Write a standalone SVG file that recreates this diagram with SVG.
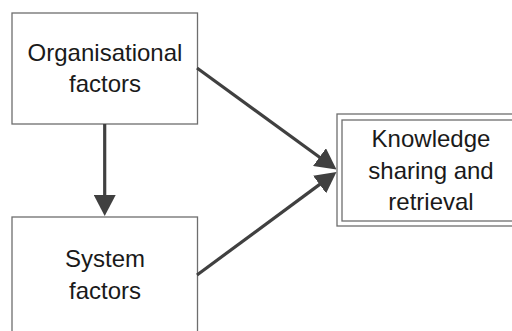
<svg xmlns="http://www.w3.org/2000/svg" width="512" height="331" viewBox="0 0 512 331">
  <style>
    .box { fill: #ffffff; stroke: #6e6e6e; stroke-width: 1.3; }
    .lbl { font-family: "Liberation Sans", Arial, sans-serif; font-size: 24px; fill: #1a1a1a; text-anchor: middle; }
    .conn { stroke: #404040; stroke-width: 3.2; fill: none; }
  </style>
  <defs>
    <marker id="ah" markerUnits="userSpaceOnUse" markerWidth="21" markerHeight="22" viewBox="0 0 21 22" refX="1" refY="11" orient="auto">
      <path d="M0,0 L21,11 L0,22 z" fill="#404040"/>
    </marker>
  </defs>
  <rect width="512" height="331" fill="#ffffff"/>
  <g id="node-organisational">
    <rect class="box" x="12" y="13" width="185.5" height="111"/>
    <text class="lbl" x="105" y="61">Organisational</text>
    <text class="lbl" x="105" y="92">factors</text>
  </g>
  <g id="node-system">
    <rect class="box" x="12" y="217" width="185.5" height="130"/>
    <text class="lbl" x="105" y="267">System</text>
    <text class="lbl" x="105" y="299">factors</text>
  </g>
  <g id="node-knowledge">
    <rect class="box" x="337" y="114" width="190" height="112"/>
    <rect class="box" x="342" y="120" width="180" height="101"/>
    <text class="lbl" x="431" y="147">Knowledge</text>
    <text class="lbl" x="431" y="179">sharing and</text>
    <text class="lbl" x="431" y="210">retrieval</text>
  </g>
  <g id="connectors">
    <line class="conn" x1="104.7" y1="124" x2="104.7" y2="196" marker-end="url(#ah)"/>
    <line class="conn" x1="197" y1="68" x2="320.3" y2="157.7" marker-end="url(#ah)"/>
    <line class="conn" x1="197" y1="275" x2="320.4" y2="183.9" marker-end="url(#ah)"/>
  </g>
</svg>
